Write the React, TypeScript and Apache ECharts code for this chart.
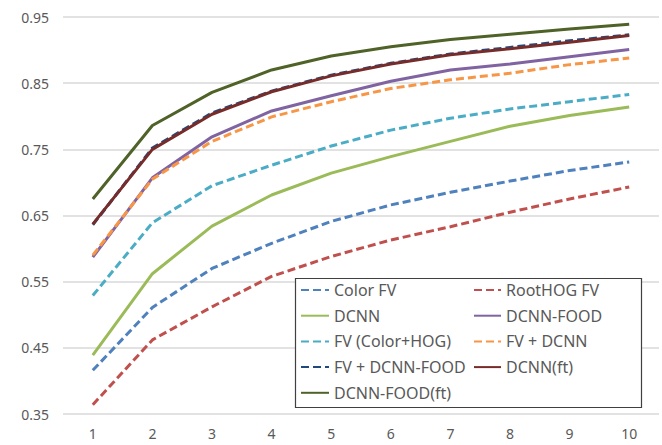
import React, { useEffect, useRef } from "react";
import * as echarts from "echarts";

const categories = ["1", "2", "3", "4", "5", "6", "7", "8", "9", "10"];

const colorFV = [0.416, 0.511, 0.570, 0.608, 0.641, 0.666, 0.685, 0.702, 0.718, 0.731];
const rootHOGFV = [0.364, 0.462, 0.512, 0.558, 0.588, 0.613, 0.633, 0.655, 0.675, 0.693];
const dcnn = [0.439, 0.562, 0.634, 0.681, 0.714, 0.739, 0.762, 0.785, 0.801, 0.814];
const dcnnFood = [0.587, 0.707, 0.769, 0.808, 0.831, 0.853, 0.870, 0.879, 0.890, 0.901];
const fvColorHog = [0.529, 0.639, 0.695, 0.726, 0.755, 0.779, 0.797, 0.811, 0.822, 0.833];
const fvDcnn = [0.590, 0.705, 0.762, 0.799, 0.822, 0.842, 0.855, 0.865, 0.878, 0.888];
const fvDcnnFood = [0.636, 0.752, 0.805, 0.838, 0.862, 0.880, 0.894, 0.904, 0.914, 0.923];
const dcnnFt = [0.637, 0.750, 0.803, 0.837, 0.861, 0.879, 0.893, 0.902, 0.912, 0.922];
const dcnnFoodFt = [0.675, 0.786, 0.836, 0.870, 0.891, 0.905, 0.916, 0.924, 0.932, 0.939];

const seriesDefs = [
  { name: "Color FV", data: colorFV, color: "#4F81BD", dashed: true },
  { name: "RootHOG FV", data: rootHOGFV, color: "#C0504D", dashed: true },
  { name: "DCNN", data: dcnn, color: "#9BBB59", dashed: false },
  { name: "DCNN-FOOD", data: dcnnFood, color: "#8064A2", dashed: false },
  { name: "FV (Color+HOG)", data: fvColorHog, color: "#4BACC6", dashed: true },
  { name: "FV + DCNN", data: fvDcnn, color: "#F79646", dashed: true },
  { name: "FV + DCNN-FOOD", data: fvDcnnFood, color: "#1F497D", dashed: true },
  { name: "DCNN(ft)", data: dcnnFt, color: "#772C2A", dashed: false },
  { name: "DCNN-FOOD(ft)", data: dcnnFoodFt, color: "#4F6228", dashed: false },
];

const leftLegend = ["Color FV", "DCNN", "FV (Color+HOG)", "FV + DCNN-FOOD", "DCNN-FOOD(ft)"];
const rightLegend = ["RootHOG FV", "DCNN-FOOD", "FV + DCNN", "DCNN(ft)"];

const FONT = "'Noto Sans', sans-serif";

export default function App() {
  const ref = useRef<HTMLDivElement>(null);
  useEffect(() => {
    if (!ref.current) return;
    const chart = echarts.init(ref.current, undefined, { renderer: "svg" });
    const legendBase = {
      orient: "vertical" as const,
      top: 281,
      padding: 0,
      itemWidth: 28,
      itemHeight: 14,
      itemGap: 7.7,
      itemStyle: { opacity: 0 },
      textStyle: { fontFamily: FONT, fontSize: 16, color: "#595959", lineHeight: 18 },
    };
    chart.setOption({
      animation: false,
      grid: { left: 63, right: 3, top: 17, bottom: 31 },
      xAxis: {
        type: "category",
        data: categories,
        boundaryGap: true,
        axisLine: { show: false },
        axisTick: { show: false },
        axisLabel: { fontFamily: FONT, fontSize: 14, color: "#595959", margin: 12 },
      },
      yAxis: {
        type: "value",
        min: 0.35,
        max: 0.95,
        interval: 0.05,
        axisLine: { show: false },
        axisTick: { show: false },
        axisLabel: {
          fontFamily: FONT,
          fontSize: 14,
          color: "#595959",
          margin: 14,
          formatter: (v: number) => (Math.round(v * 100) % 10 === 5 ? v.toFixed(2) : ""),
        },
        splitLine: { lineStyle: { color: ["#D9D9D9", "rgba(0,0,0,0)"], width: 1.5 } },
      },
      legend: [
        { ...legendBase, left: 300, data: leftLegend },
        { ...legendBase, left: 473, itemWidth: 27, data: rightLegend },
      ],
      graphic: [
        {
          type: "rect",
          z: 3,
          shape: { x: 295.5, y: 278.5, width: 346, height: 129 },
          style: { fill: "#ffffff", stroke: "#404040", lineWidth: 1.2 },
        },
      ],
      series: seriesDefs.map((s) => ({
        name: s.name,
        type: "line",
        data: s.data,
        symbol: "none",
        z: 2,
        color: s.color,
        lineStyle: {
          color: s.color,
          width: 3,
          type: s.dashed ? [8, 4] : "solid",
        },
      })),
    });
    return () => chart.dispose();
  }, []);
  return <div ref={ref} style={{ width: 662, height: 445, position: "absolute", left: 0, top: 0 }} />;
}
